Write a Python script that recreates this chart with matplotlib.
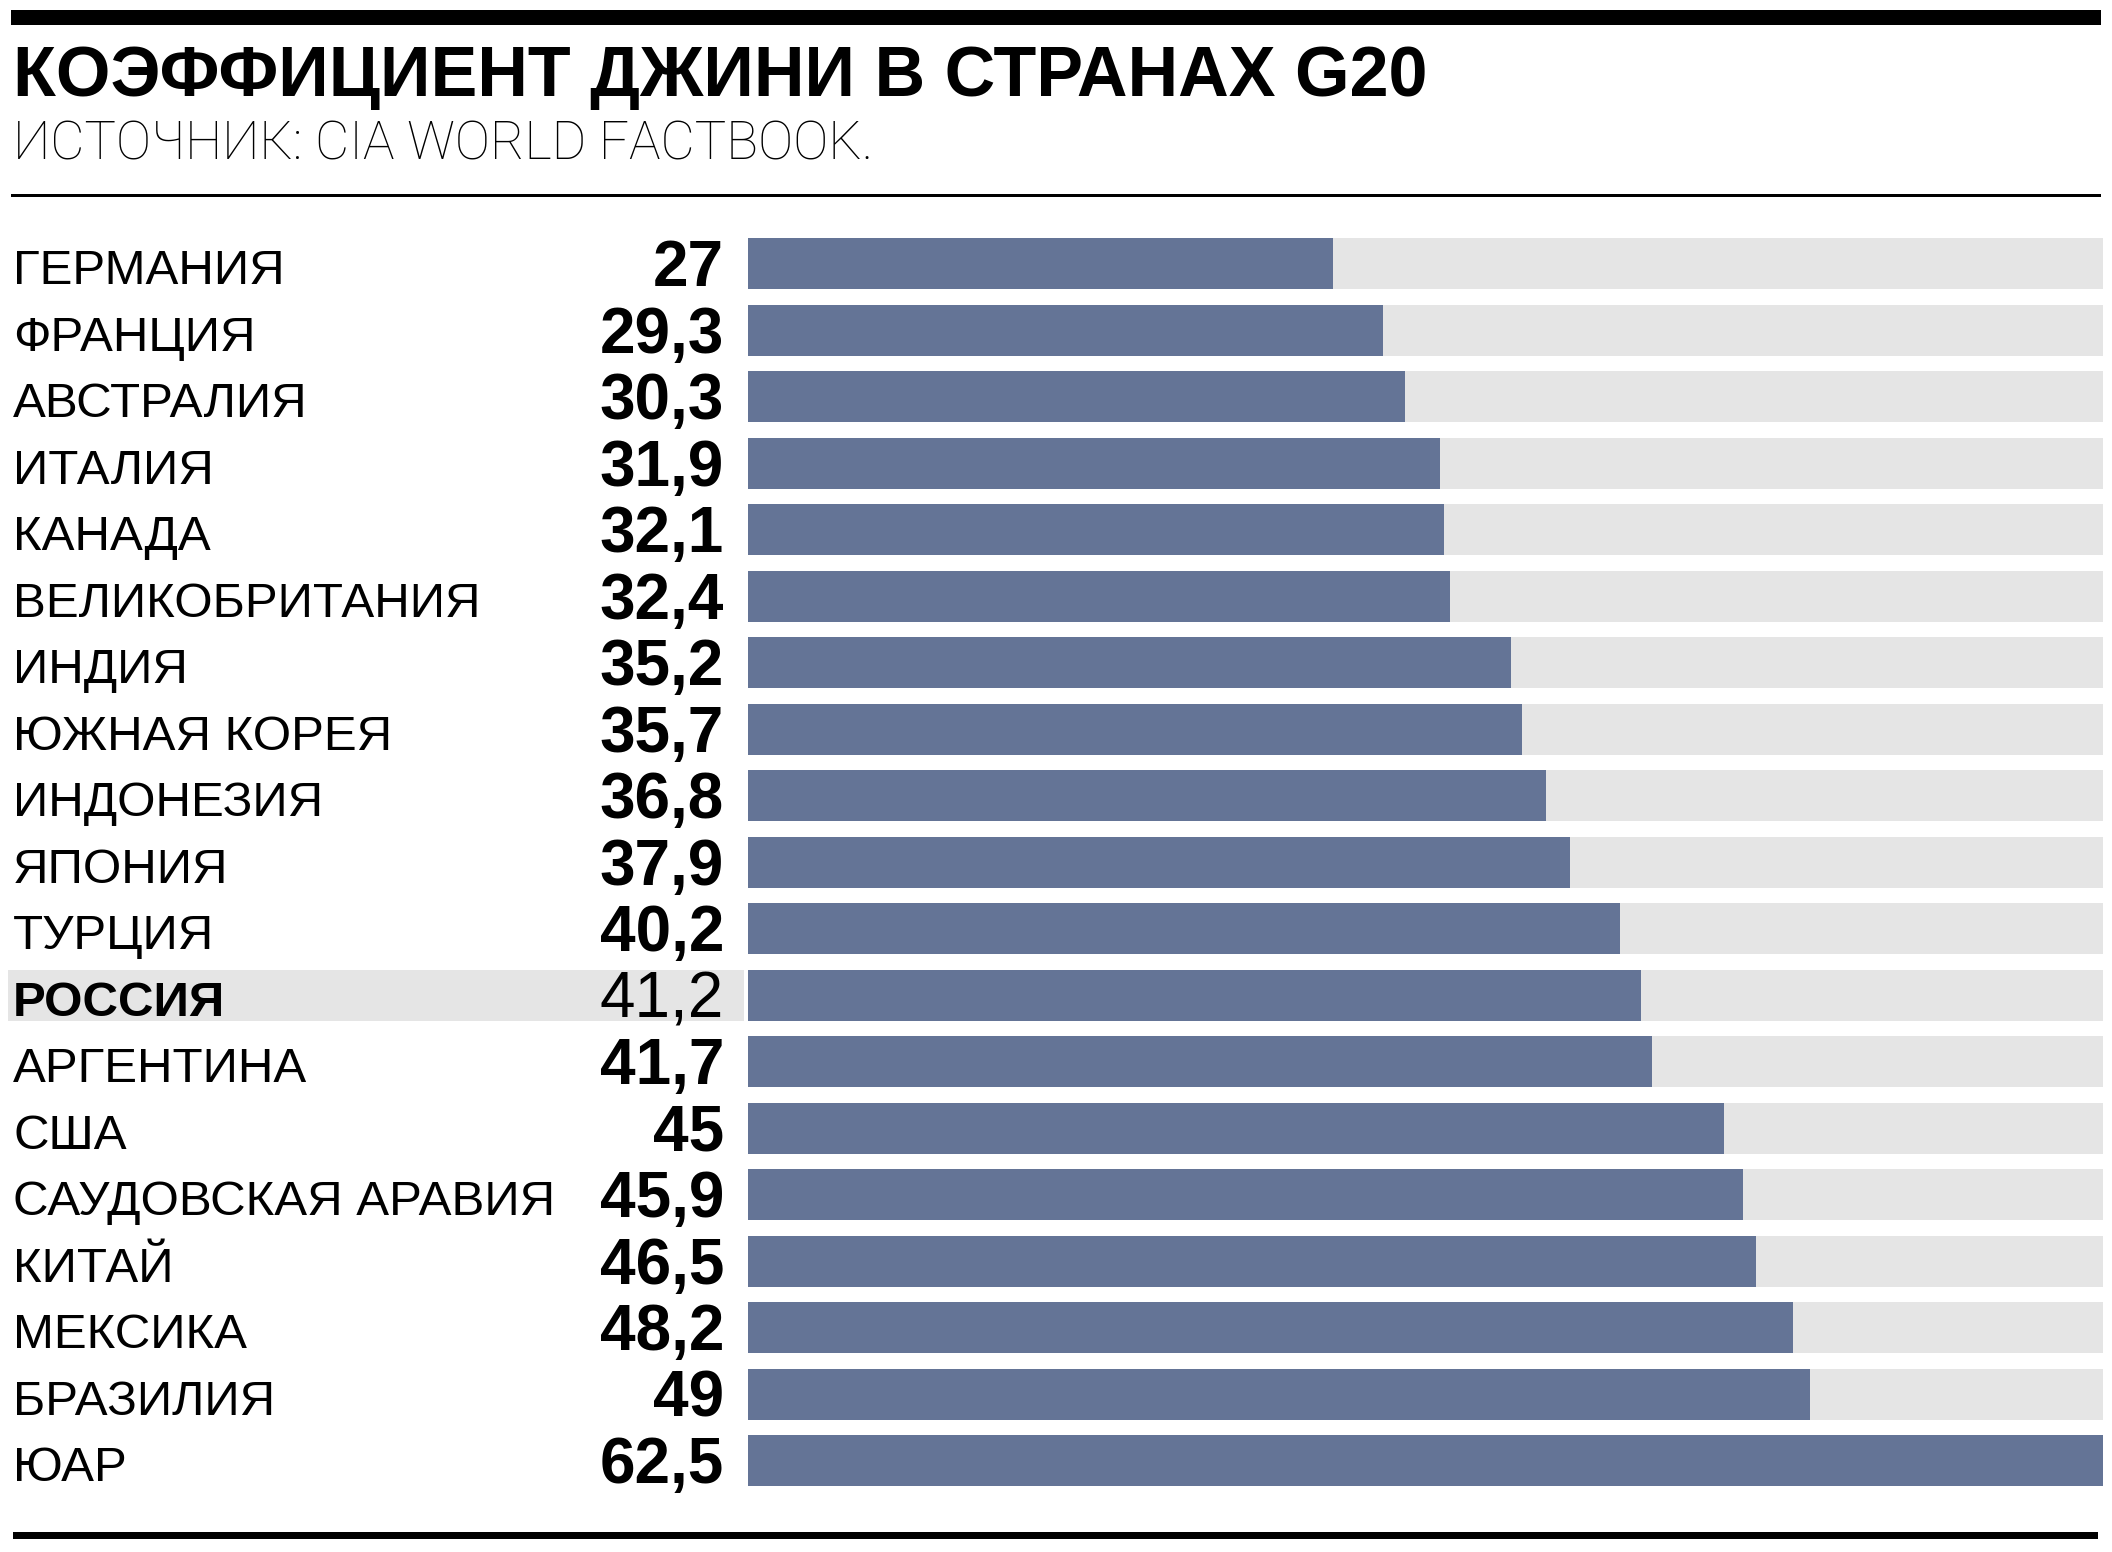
import matplotlib
matplotlib.use("Agg")
import matplotlib.pyplot as plt
import matplotlib.patches as patches
from matplotlib.transforms import blended_transform_factory

countries = ["ГЕРМАНИЯ", "ФРАНЦИЯ", "АВСТРАЛИЯ", "ИТАЛИЯ", "КАНАДА",
             "ВЕЛИКОБРИТАНИЯ", "ИНДИЯ", "ЮЖНАЯ КОРЕЯ", "ИНДОНЕЗИЯ", "ЯПОНИЯ",
             "ТУРЦИЯ", "РОССИЯ", "АРГЕНТИНА", "США", "САУДОВСКАЯ АРАВИЯ",
             "КИТАЙ", "МЕКСИКА", "БРАЗИЛИЯ", "ЮАР"]
gini = [27, 29.3, 30.3, 31.9, 32.1, 32.4, 35.2, 35.7, 36.8, 37.9,
        40.2, 41.2, 41.7, 45, 45.9, 46.5, 48.2, 49, 62.5]
highlight = "РОССИЯ"

title = "КОЭФФИЦИЕНТ ДЖИНИ В СТРАНАХ G20"
subtitle = "ИСТОЧНИК: CIA WORLD FACTBOOK."

W, H = 2112, 1552
bar_color = "#647496"
back_color = "#e5e5e5"
font = "Liberation Sans"

fig = plt.figure(figsize=(W / 100, H / 100), dpi=100)

# header
fig.add_artist(patches.Rectangle((11 / W, 1 - 25 / H), 2090 / W, 15 / H,
                                 transform=fig.transFigure, color="black", lw=0))
fig.text(13 / W, 1 - 96 / H, title, fontsize=50.5, fontweight="bold",
         family=font, va="baseline", ha="left")
fig.text(13 / W, 1 - 160 / H, subtitle, fontsize=38, fontweight="light",
         family=["Roboto", font], va="baseline", ha="left")
fig.add_artist(patches.Rectangle((11 / W, 1 - 197 / H), 2090 / W, 3 / H,
                                 transform=fig.transFigure, color="black", lw=0))
fig.add_artist(patches.Rectangle((13 / W, 1 - 1539 / H), 2085 / W, 7 / H,
                                 transform=fig.transFigure, color="black", lw=0))

# bars
n = len(countries)
ax = fig.add_axes([748 / W, 1 - 1494 / H, 1355 / W, 1263.5 / H])
ypos = list(range(n))
xmax = max(gini)
ax.barh(ypos, [xmax] * n, height=0.77, color=back_color, lw=0)
ax.barh(ypos, gini, height=0.77, color=bar_color, lw=0)
ax.set_xlim(0, xmax)
ax.set_ylim(n - 0.5, -0.5)
ax.axis("off")

tr = blended_transform_factory(fig.transFigure, ax.transData)
for i, (name, val) in enumerate(zip(countries, gini)):
    is_hl = name == highlight
    if is_hl:
        ax.add_patch(patches.Rectangle((8 / W, i - 0.385), 736 / W, 0.77,
                                       transform=tr, color=back_color, lw=0,
                                       clip_on=False))
    ax.text(13 / W, i + 0.31, name, transform=tr, fontsize=35.5,
            fontweight="bold" if is_hl else "normal", family=font,
            va="baseline", ha="left")
    label = f"{val:g}".replace(".", ",")
    ax.text(724 / W, i + 0.34, label, transform=tr, fontsize=46,
            fontweight="normal" if is_hl else "bold", family=font,
            va="baseline", ha="right")

fig.savefig("out.png", dpi=100)
plt.close(fig)
